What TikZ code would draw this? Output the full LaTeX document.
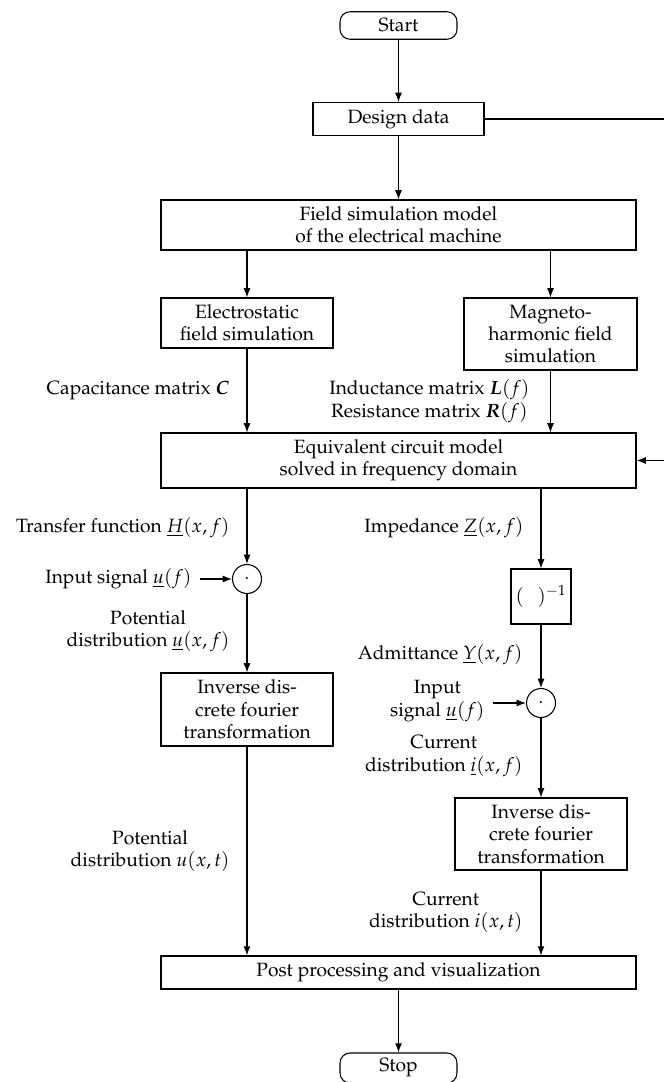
\documentclass[tikz,border=0pt]{standalone}
\usepackage[T1]{fontenc}
\usepackage{mathpazo}
\usepackage{amsmath}
\usepackage{bm}
\usetikzlibrary{arrows.meta}
\newcommand\pxl[1]{#1*0.52pt}
\tikzset{
  box/.style={draw, align=center, inner sep=0pt},
  term/.style={box, rounded corners=\pxl{10}},
  lbl/.style={anchor=east, align=center, inner sep=0pt},
  sidelbl/.style={lbl, inner xsep=\pxl{8}},
  mult/.style={draw, circle, minimum size=\pxl{29}, inner sep=0pt},
  arr/.style={-{Latex[length=4.8pt,width=3.6pt]}}
}
\begin{document}
\begin{tikzpicture}[x=0.52pt,y=-0.52pt,line width=0.55pt,font=\fontsize{10}{11.6}\selectfont]
\useasboundingbox (0,0) rectangle (664,1082);
\clip (0,0) rectangle (664,1082);

% boxes
\node[term, minimum width=\pxl{117}, minimum height=\pxl{27.5}] (start) at (398.5,25.5) {Start};
\node[box, minimum width=\pxl{171}, minimum height=\pxl{33}] (dd) at (398.5,119) {Design data};
\node[box, minimum width=\pxl{475}, minimum height=\pxl{50}] (fsm) at (398.5,225) {Field simulation model\\of the electrical machine};
\node[box, minimum width=\pxl{172}, minimum height=\pxl{50}] (es) at (247,323) {Electrostatic\\field simulation};
\node[box, minimum width=\pxl{173}, minimum height=\pxl{72}] (mh) at (550.5,334) {Magneto-\\harmonic field\\simulation};
\node[box, minimum width=\pxl{475}, minimum height=\pxl{55}] (eq) at (398.5,460.5) {Equivalent circuit model\\solved in frequency domain};
\node[mult] (mulL) at (247,579) {$\cdot$};
\node[box, minimum width=\pxl{60}, minimum height=\pxl{55}] (inv) at (541,596.5) {$(\;\;\,)^{-1}$};
\node[box, minimum width=\pxl{172}, minimum height=\pxl{73}] (idftL) at (247,709.5) {Inverse dis-\\crete fourier\\transformation};
\node[mult] (mulR) at (541,703) {$\cdot$};
\node[box, minimum width=\pxl{172}, minimum height=\pxl{72}] (idftR) at (541,834) {Inverse dis-\\crete fourier\\transformation};
\node[box, minimum width=\pxl{475}, minimum height=\pxl{33}] (post) at (398.5,972.5) {Post processing and visualization};
\node[term, minimum width=\pxl{117}, minimum height=\pxl{30}] (stop) at (398.5,1068) {Stop};

% labels
\node[lbl] (capL) at (230,391) {Capacitance matrix $\bm{C}$};
\node[lbl] (indL) at (530,401) {Inductance matrix $\bm{L}(f)$\\Resistance matrix $\bm{R}(f)$};
\node[lbl] (tfL) at (230,528) {Transfer function $\underline{H}(x,f)$};
\node[lbl] (impL) at (524,528) {Impedance $\underline{Z}(x,f)$};
\node[sidelbl] (inL) at (200,579) {Input signal $\underline{u}(f)$};
\node[lbl] (potfL) at (230,631) {Potential\\distribution $\underline{u}(x,f)$};
\node[lbl] (admL) at (523,655) {Admittance $\underline{Y}(x,f)$};
\node[sidelbl] (inR) at (493,701) {Input\\signal $\underline{u}(f)$};
\node[lbl] (curfL) at (523,756) {Current\\distribution $\underline{i}(x,f)$};
\node[lbl] (pottL) at (230,851) {Potential\\distribution $u(x,t)$};
\node[lbl] (curtL) at (523,912.5) {Current\\distribution $i(x,t)$};

\coordinate (r) at (690,0);

% connectors
\draw[arr] (start) -- (dd);
\draw[arr] (dd) -- (fsm);
\draw[arr] (fsm.south -| es.north) -- (es.north);
\draw[arr] (fsm.south -| mh.north) -- (mh.north);
\draw[arr] (es.south) -- (es.south |- eq.north);
\draw[arr] (mh.south) -- (mh.south |- eq.north);
\draw[arr] (dd.east) -- (dd.east -| r) -- (eq.east -| r) -- (eq.east);
\draw[arr] (eq.south -| mulL.north) -- (mulL.north);
\draw[arr] (eq.south -| inv.north) -- (inv.north);
\draw[arr] (inL.east) -- (mulL.west);
\draw[arr] (mulL.south) -- (idftL.north);
\draw[arr] (inv.south) -- (mulR.north);
\draw[arr] (inR.east |- mulR.west) -- (mulR.west);
\draw[arr] (mulR.south) -- (idftR.north);
\draw[arr] (idftL.south) -- (idftL.south |- post.north);
\draw[arr] (idftR.south) -- (idftR.south |- post.north);
\draw[arr] (post) -- (stop);
\end{tikzpicture}
\end{document}
